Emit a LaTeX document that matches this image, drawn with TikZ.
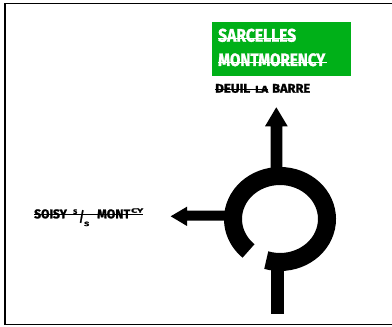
\documentclass[tikz,border=0pt]{standalone}
\usepackage{fontspec}
\setmainfont{Fira Sans}[BoldFeatures={FakeBold=1.5}]
\usetikzlibrary{calc}
\definecolor{signgreen}{RGB}{0,176,24}
\begin{document}
\begin{tikzpicture}[x=1pt,y=1pt,
  lbl/.style={inner sep=0pt, anchor=base west, font=\bfseries},
  strike/.style={line width=0.6pt},
  road/.style={fill=black, draw=none},
  ringstyle/.style={line width=18pt, draw=black},
  frame/.style={line width=1.6pt, draw=black}]
\useasboundingbox (0,0) rectangle (392,327);
% frame
\draw[frame] (394,2.5) -- (5,2.5) -- (5,323.5) -- (394,323.5);
% green panel
\fill[signgreen] (212,251) rectangle (351,305);
\node[lbl,text=white] (sar) at (218,285.3) {\resizebox{78pt}{13pt}{SARCELLES}};
\node[lbl,text=white] (mon) at (218,261) {\resizebox{107pt}{12.7pt}{MONTMORENCY}};
\draw[strike,white] ([yshift=3.4pt]sar.base west) -- ([yshift=3.4pt]sar.base east);
\draw[strike,white] ([yshift=3.4pt]mon.base west) -- ([yshift=3.4pt,xshift=2pt]mon.base east);
% Deuil
\node[lbl] (deu) at (215,234.3) {\resizebox{35pt}{8.7pt}{DEUIL}\hspace{5pt}\resizebox{13pt}{6.7pt}{LA}\hspace{4pt}\resizebox{38pt}{8.7pt}{BARRE}};
\draw[strike] ([yshift=3.6pt]deu.base west) -- ++(53,0);
% Soisy
\node[lbl] (soi) at (34,108.7) {\resizebox{32.7pt}{9pt}{SOISY}\hspace{6.3pt}\raisebox{4.5pt}{\resizebox{4pt}{4.5pt}{S}}\hspace{2pt}\raisebox{-4.7pt}{\resizebox*{5pt}{13pt}{\raisebox{\depth}{/}}}\raisebox{-7.7pt}{\resizebox{5pt}{4.3pt}{S}}\hspace{8pt}\resizebox{33pt}{9pt}{MONT}\hspace{1pt}\raisebox{5.6pt}{\resizebox{12pt}{4.4pt}{CY}}};
\draw[strike] ([yshift=3.6pt]soi.base west) -- ([yshift=3.6pt]soi.base east);
% roundabout
\coordinate (C) at (280,108);
\fill[road] (270.7,150) -- (270.7,200.7) -- (265,200.7) -- (276.3,219.7) -- (287.7,200.7) -- (282.3,200.7) -- (282.3,150) -- cycle;
\fill[road] (233,106.3) -- (187,106.3) -- (187,101) -- (170.7,110.7) -- (187,120.3) -- (187,116.3) -- (233,116.3) -- cycle;
\fill[road] (270.7,13) rectangle (284,66);
\draw[ringstyle] ($(C)+(-107:47 and 43)$) arc[start angle=-107,end angle=228,x radius=47,y radius=43];
\end{tikzpicture}
\end{document}
